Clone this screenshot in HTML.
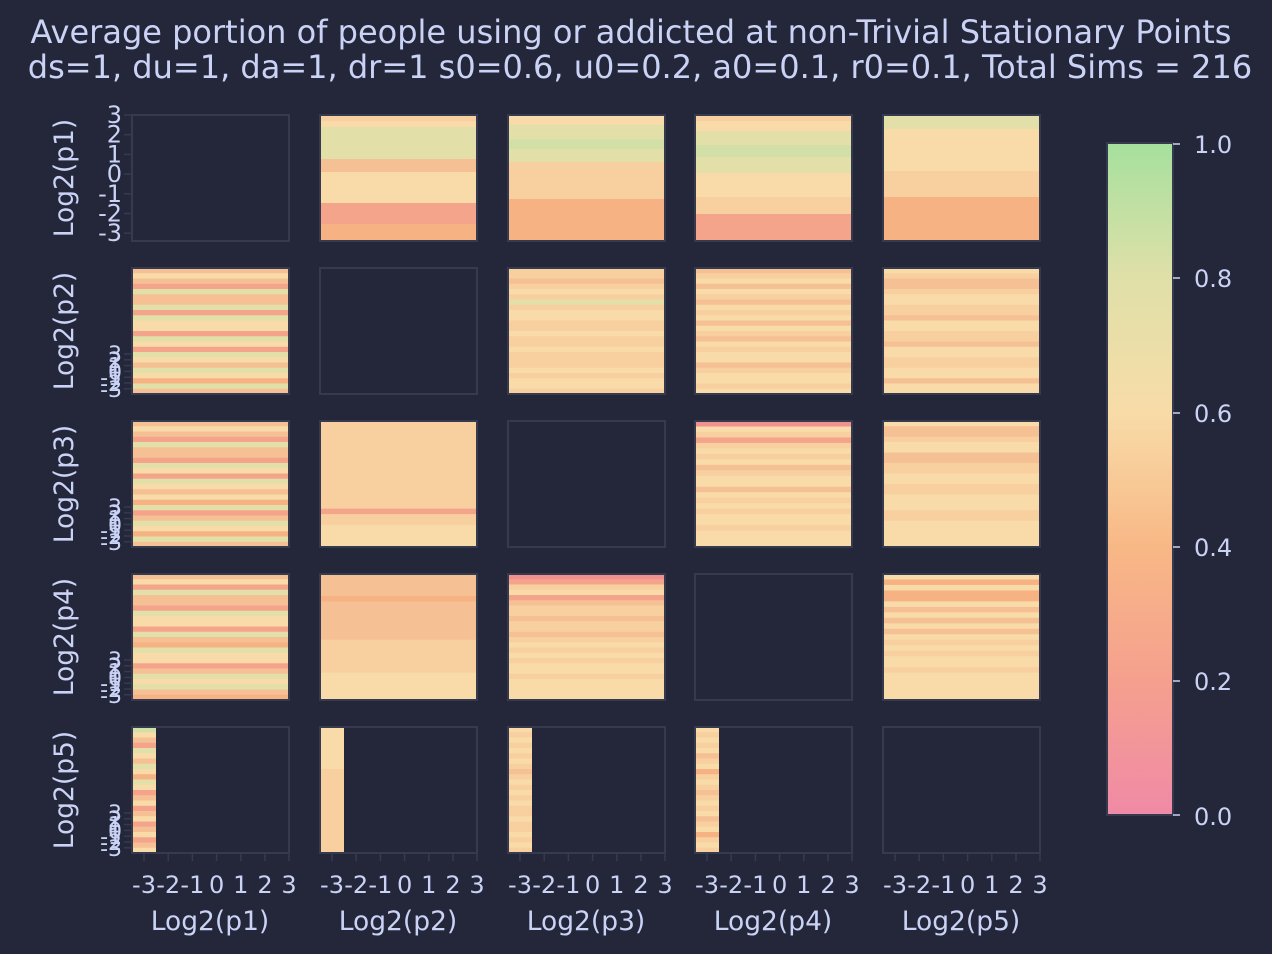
<!DOCTYPE html>
<html><head><meta charset="utf-8"><style>
html,body{margin:0;padding:0;background:#24273a;}
svg{display:block;font-family:"DejaVu Sans","Liberation Sans",sans-serif;}
</style></head><body>
<svg id="s" width="1272" height="954" xmlns="http://www.w3.org/2000/svg">
<defs><linearGradient id="cb" x1="0" y1="1" x2="0" y2="0">
<stop offset="0" stop-color="#f08aa6"/><stop offset="0.2" stop-color="#f5a08e"/>
<stop offset="0.4" stop-color="#f8b886"/><stop offset="0.6" stop-color="#f8dca8"/>
<stop offset="0.8" stop-color="#dfe0a8"/><stop offset="1" stop-color="#a6e09e"/></linearGradient></defs>
<rect width="1272" height="954" fill="#24273a"/>
<text x="631" y="43" fill="#cad3f5" font-size="32" text-anchor="middle">Average portion of people using or addicted at non-Trivial Stationary Points</text>
<text x="640" y="78" fill="#cad3f5" font-size="32" text-anchor="middle">ds=1, du=1, da=1, dr=1 s0=0.6, u0=0.2, a0=0.1, r0=0.1, Total Sims = 216</text>
<g id="g"></g>
<rect x="1107" y="143" width="66" height="672" fill="url(#cb)" stroke="#363a4f" stroke-width="2"/>
<g fill="#cad3f5" font-size="24">
<text x="1194" y="153">1.0</text><text x="1194" y="287">0.8</text><text x="1194" y="422">0.6</text>
<text x="1194" y="556">0.4</text><text x="1194" y="690">0.2</text><text x="1194" y="825">0.0</text></g>
<g stroke="#cad3f5" stroke-width="1.5"><line x1="1173" y1="144" x2="1180" y2="144"/><line x1="1173" y1="278" x2="1180" y2="278"/><line x1="1173" y1="413" x2="1180" y2="413"/><line x1="1173" y1="547" x2="1180" y2="547"/><line x1="1173" y1="681" x2="1180" y2="681"/><line x1="1173" y1="815" x2="1180" y2="815"/></g>
</svg>
<script>
var NS="http://www.w3.org/2000/svg",g=document.getElementById("g");
function el(t,a,txt){var e=document.createElementNS(NS,t);for(var k in a)e.setAttribute(k,a[k]);if(txt!=null)e.textContent=txt;g.appendChild(e);return e;}
var cx=[132,320,508,695,883],ry=[115,268,421,574,727],W=157,H=126;
var C={o:"#f6c095",l:"#f8dba8",s:"#f5a48c",g:"#e2e0a8",d:"#f7b283",p:"#f8d0a0",G:"#d2dfa6",r:"#f0908f"};
function stripes(x,y,w,h,list){
 var tot=0;list.forEach(function(s){tot+=s[0]});var cy=y;
 list.forEach(function(s){var hh=s[0]/tot*h;el("rect",{x:x,y:cy,width:w,height:hh+0.6,fill:C[s[1]]||s[1]});cy+=hh;});}
function seq(str){return str.split("").map(function(c){return [1,c]});}
var P={};
P["0,1"]=[[6,"p"],[6,"l"],[32,"g"],[13,"o"],[31,"l"],[21,"s"],[17,"d"]];
P["0,2"]=[[10,"l"],[15,"g"],[10,"G"],[13,"g"],[38,"p"],[43,"d"]];
P["0,3"]=[[6,"p"],[10,"l"],[14,"g"],[12,"G"],[16,"g"],[24,"l"],[17,"p"],[27,"s"]];
P["0,4"]=[[14,"g"],[20,"l"],[22,"l"],[26,"p"],[44,"d"]];
P["1,0"]=seq("olosgoogsgllsglsglogldgo");
P["2,0"]=seq("olosgoosglsgloldgsogldgo");
P["3,0"]=seq("olsgoosgllsgodgllsoglgod");
P["1,2"]=seq("ppoplpgpllpplpplppplpllp");
P["1,3"]=seq("oplolpolplolpolpllopllpl");
P["1,4"]=seq("lpoopllppollppollpplloll");
P["2,1"]=seq("ppppppppppppppppsppllll");
P["2,3"]=seq("rlpsplplopllolplpllplll");
P["2,4"]=seq("loopllooppllpplllpplllll");
P["3,1"]=seq("oooodooooooopppppplllll");
P["3,2"]=seq("rsplsoppoppoplplpllpllll");
P["3,4"]=seq("ldlddlolololplpllplllll");
P["4,0"]=seq("Glosglogldglsolsolsolsol");
P["4,1"]=seq("llllllllpppppppppppppppp");
P["4,2"]=seq("lplplplpoplplplpplpplplp");
P["4,3"]=seq("lplplopldplpoplplopldplp");
for(var r=0;r<5;r++)for(var c=0;c<5;c++){
 var x=cx[c],y=ry[r],k=r+","+c;
 if(P[k]){ if(r==4) stripes(x,y,24,H,P[k]); else stripes(x,y,W,H,P[k]); }
 el("rect",{x:x,y:y,width:W,height:H,fill:"none",stroke:"#363a4f","stroke-width":2});
}
var lab=["Log2(p1)","Log2(p2)","Log2(p3)","Log2(p4)","Log2(p5)"];
for(var r=0;r<5;r++){var cyy=ry[r]+63;el("text",{x:0,y:0,fill:"#cad3f5","font-size":26.5,"text-anchor":"middle",transform:"translate(73,"+cyy+") rotate(-90)"},lab[r]);}
var yl=["3","2","1","0","-1","-2","-3"];
for(var i=0;i<7;i++){var yy=115+i*19.7;el("line",{x1:124,y1:yy,x2:132,y2:yy,stroke:"#363a4f","stroke-width":1.5});
 el("text",{x:122,y:yy+8,fill:"#cad3f5","font-size":24,"text-anchor":"end"},yl[i]);}
for(var r=1;r<5;r++){for(var i=0;i<7;i++){var yy=ry[r]+86+i*5.8;el("line",{x1:124,y1:yy,x2:132,y2:yy,stroke:"#363a4f","stroke-width":1.5});
 el("text",{x:122,y:yy+8,fill:"#cad3f5","font-size":22,"text-anchor":"end"},yl[i]);}}
var xl=["-3","-2","-1","0","1","2","3"];
for(var c=0;c<5;c++){for(var i=0;i<7;i++){var xx=cx[c]+12+i*24.2;if(i==6)xx=cx[c]+157;
 el("line",{x1:xx,y1:853,x2:xx,y2:861,stroke:"#363a4f","stroke-width":1.5});
 el("text",{x:xx,y:893,fill:"#cad3f5","font-size":24,"text-anchor":"middle"},xl[i]);}
 el("text",{x:cx[c]+78,y:930,fill:"#cad3f5","font-size":26.5,"text-anchor":"middle"},lab[c]);}
</script>
</body></html>
